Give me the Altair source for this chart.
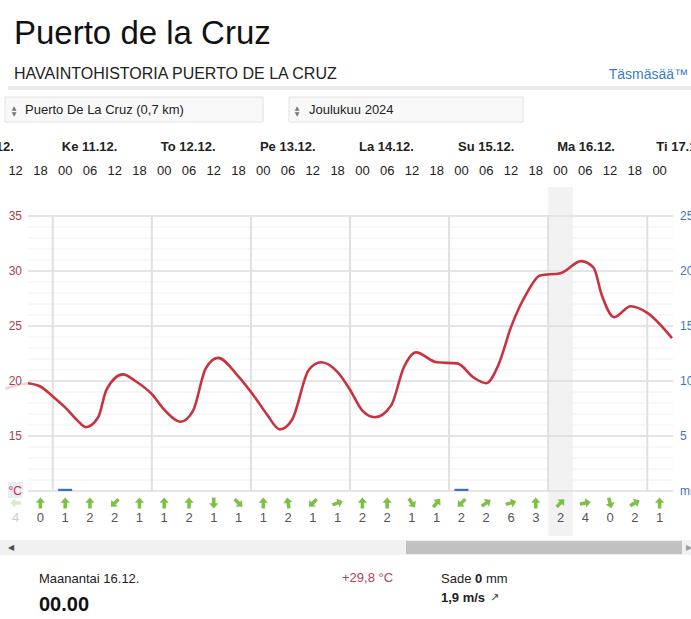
import altair as alt
import pandas as pd

# ---------------- data ----------------
temp_time = [
    "2024-12-10T18:00", "2024-12-10T21:00", "2024-12-11T00:00", "2024-12-11T03:00",
    "2024-12-11T06:00", "2024-12-11T08:00", "2024-12-11T11:00", "2024-12-11T13:00",
    "2024-12-11T17:00", "2024-12-11T20:00", "2024-12-12T00:00", "2024-12-12T03:00",
    "2024-12-12T07:00", "2024-12-12T10:00", "2024-12-12T13:00", "2024-12-12T16:00",
    "2024-12-12T21:00", "2024-12-13T01:00", "2024-12-13T04:00", "2024-12-13T07:00",
    "2024-12-13T10:00", "2024-12-13T14:00", "2024-12-13T17:00", "2024-12-13T21:00",
    "2024-12-14T00:00", "2024-12-14T03:00", "2024-12-14T06:00", "2024-12-14T10:00",
    "2024-12-14T13:00", "2024-12-14T16:00", "2024-12-14T21:00", "2024-12-15T02:00",
    "2024-12-15T06:00", "2024-12-15T09:00", "2024-12-15T12:00", "2024-12-15T15:00",
    "2024-12-15T19:00", "2024-12-15T22:00", "2024-12-16T03:00", "2024-12-16T08:00",
    "2024-12-16T11:00", "2024-12-16T13:00", "2024-12-16T16:00", "2024-12-16T20:00",
    "2024-12-17T00:00", "2024-12-17T06:00",
]
temp_value = [
    19.8, 19.5, 18.6, 17.6, 16.4, 15.8, 16.7, 19.2, 20.6, 20.0, 18.8, 17.4,
    16.3, 17.3, 21.1, 22.1, 20.4, 18.5, 16.9, 15.6, 16.5, 21.0, 21.7, 20.8,
    19.2, 17.3, 16.7, 17.8, 21.2, 22.6, 21.7, 21.6, 20.3, 19.8, 21.5, 24.9,
    28.1, 29.6, 29.8, 30.9, 30.3, 27.8, 25.8, 26.8, 26.2, 23.9,
]
# part of the curve before the visible range (drawn faded)
temp_prev_time = ["2024-12-10T12:30", "2024-12-10T15:00", "2024-12-10T18:00"]
temp_prev_value = [19.3, 19.6, 19.8]

# 6-hour slots, first one lies before the visible range
slot_start = [
    "2024-12-10T12:00", "2024-12-10T18:00",
    "2024-12-11T00:00", "2024-12-11T06:00", "2024-12-11T12:00", "2024-12-11T18:00",
    "2024-12-12T00:00", "2024-12-12T06:00", "2024-12-12T12:00", "2024-12-12T18:00",
    "2024-12-13T00:00", "2024-12-13T06:00", "2024-12-13T12:00", "2024-12-13T18:00",
    "2024-12-14T00:00", "2024-12-14T06:00", "2024-12-14T12:00", "2024-12-14T18:00",
    "2024-12-15T00:00", "2024-12-15T06:00", "2024-12-15T12:00", "2024-12-15T18:00",
    "2024-12-16T00:00", "2024-12-16T06:00", "2024-12-16T12:00", "2024-12-16T18:00",
    "2024-12-17T00:00",
]
wind_speed = [4, 0, 1, 2, 2, 1, 1, 2, 1, 1, 1, 2, 1, 1,
              2, 2, 1, 1, 2, 2, 6, 3, 2, 4, 0, 2, 1]
wind_dir = [270, 0, 0, 0, 225, 0, 0, 0, 180, 135, 0, 350, 225, 70,
            0, 0, 145, 40, 225, 55, 75, 0, 45, 80, 165, 60, 0]
precip_mm = [0, 0, 0.2, 0, 0, 0, 0, 0, 0, 0, 0, 0, 0, 0,
             0, 0, 0, 0, 0.2, 0, 0, 0, 0, 0, 0, 0, 0]

day_start = ["2024-12-10", "2024-12-11", "2024-12-12", "2024-12-13",
             "2024-12-14", "2024-12-15", "2024-12-16", "2024-12-17"]
day_label = ["Ti 10.12.", "Ke 11.12.", "To 12.12.", "Pe 13.12.",
             "La 14.12.", "Su 15.12.", "Ma 16.12.", "Ti 17.12."]

temp_major = [10, 15, 20, 25, 30, 35]
temp_minor = [11, 12, 13, 14, 16, 17, 18, 19, 21, 22, 23, 24,
              26, 27, 28, 29, 31, 32, 33, 34]
left_label_values = [10, 15, 20, 25, 30, 35]
left_label_text = ["°C", "15", "20", "25", "30", "35"]
right_label_values = [0, 5, 10, 15, 20, 25]
right_label_text = ["mm", "5", "10", "15", "20", "25"]

selected_slot = "2024-12-16T00:00"

# ---------------- frames ----------------
temp_df = pd.DataFrame({"t": pd.to_datetime(temp_time), "v": temp_value})
prev_df = pd.DataFrame({"t": pd.to_datetime(temp_prev_time), "v": temp_prev_value})
ss = pd.to_datetime(slot_start)
slot_df = pd.DataFrame({
    "start": ss,
    "mid": ss + pd.Timedelta(hours=3),
    "hour": ss.strftime("%H"),
    "speed": [str(s) for s in wind_speed],
    "dir": wind_dir,
    "p": precip_mm,
    "faded": [i == 0 for i in range(len(slot_start))],
})
wind_df = slot_df
precip_df = slot_df[slot_df["p"] > 0]
ds = pd.to_datetime(day_start)
day_df = pd.DataFrame({"d": ds, "label": day_label})
dayline_df = day_df.iloc[1:]
sel = pd.to_datetime([selected_slot])
sel_df = pd.DataFrame({"a": sel, "b": sel + pd.Timedelta(hours=6)})

F = "Liberation Sans"
RED = "#c8333f"
ONE = pd.DataFrame({"k": [0]})

xs = alt.Scale(
    domain=[alt.DateTime(year=2024, month=12, date=10, hours=18),
            alt.DateTime(year=2024, month=12, date=17, hours=6)],
    range=[28, 672], padding=0, nice=False,
)
yt = alt.Scale(domain=[10, 35], range=[491, 216], nice=False, zero=False)
yp = alt.Scale(domain=[0, 25], range=[491, 216], nice=False)


def X(field):
    return alt.X(field, scale=xs, axis=None)


def box(x1, x2, y1, y2, fill, stroke=None):
    kw = {"fill": fill}
    if stroke:
        kw["stroke"] = stroke
        kw["strokeWidth"] = 1
    return alt.Chart(ONE).mark_rect(**kw).encode(
        x=alt.value(x1), x2=alt.value(x2), y=alt.value(y1), y2=alt.value(y2))


def label(txt, x, y, size=13, color="#222222", weight="normal", align="left",
          font=F, baseline="alphabetic"):
    return alt.Chart(pd.DataFrame({"s": [txt]})).mark_text(
        font=font, fontSize=size, color=color, fontWeight=weight, align=align,
        baseline=baseline).encode(text="s:N", x=alt.value(x), y=alt.value(y))


layers = []

# selected slot band
layers.append(alt.Chart(sel_df).mark_rect(fill="#f2f2f2").encode(
    x=X("a:T"), x2="b:T", y=alt.value(187), y2=alt.value(536)))

# gridlines
layers.append(alt.Chart(pd.DataFrame({"v": temp_minor})).mark_rule(
    color="#f0f0f0", strokeWidth=1).encode(
    x=alt.value(28), x2=alt.value(673), y=alt.Y("v:Q", scale=yt, axis=None)))
layers.append(alt.Chart(pd.DataFrame({"v": temp_major})).mark_rule(
    color="#dcdcdc", strokeWidth=1.6).encode(
    x=alt.value(28), x2=alt.value(673), y=alt.Y("v:Q", scale=yt, axis=None)))
layers.append(alt.Chart(dayline_df).mark_rule(color="#e0e0e0", strokeWidth=2).encode(
    x=X("d:T"), y=alt.value(216), y2=alt.value(491)))

# precipitation bars
layers.append(alt.Chart(precip_df).mark_bar(size=14, color="#3f6fc6").encode(
    x=X("mid:T"), y=alt.Y("p:Q", scale=yp, axis=None)))

# °C label background
layers.append(box(8, 23, 482, 498, "#e7ecf8"))

# temperature curve
layers.append(alt.Chart(prev_df).mark_line(
    interpolate="monotone", color=RED, strokeWidth=2.6, opacity=0.22).encode(
    x=X("t:T"), y=alt.Y("v:Q", scale=yt, axis=None)))
layers.append(alt.Chart(temp_df).mark_line(
    interpolate="monotone", color=RED, strokeWidth=2.6).encode(
    x=X("t:T"), y=alt.Y("v:Q", scale=yt, axis=None)))

# axis labels
left_df = pd.DataFrame({"v": left_label_values, "s": left_label_text,
                        "unit": [s == "°C" for s in left_label_text]})
layers.append(alt.Chart(left_df).mark_text(
    font=F, fontSize=12, align="right", baseline="middle").encode(
    x=alt.value(22), y=alt.Y("v:Q", scale=yt, axis=None), text="s:N",
    color=alt.condition("datum.unit", alt.value("#d8262f"), alt.value("#a8404b"))))
right_df = pd.DataFrame({"v": right_label_values, "s": right_label_text})
layers.append(alt.Chart(right_df).mark_text(
    font=F, fontSize=12, align="left", baseline="middle", color="#3a78bf").encode(
    x=alt.value(680), y=alt.Y("v:Q", scale=yp, axis=None), text="s:N"))

# day and hour labels
layers.append(alt.Chart(day_df).mark_text(
    font=F, fontSize=13, fontWeight="bold", align="left", baseline="middle",
    dx=9, color="#222222").encode(x=X("d:T"), y=alt.value(147), text="label:N"))
layers.append(alt.Chart(slot_df).mark_text(
    font=F, fontSize=13, align="center", baseline="middle", color="#222222").encode(
    x=X("mid:T"), y=alt.value(171), text="hour:N"))

# wind arrows and speeds
ARROW = "M0,-1L0.85,-0.05L0.32,-0.05L0.32,1L-0.32,1L-0.32,-0.05L-0.85,-0.05Z"
layers.append(alt.Chart(wind_df).mark_point(
    shape=ARROW, filled=True, size=120, color="#7cc142", strokeWidth=0).encode(
    x=X("mid:T"), y=alt.value(503), angle=alt.Angle("dir:Q", scale=None),
    opacity=alt.condition("datum.faded", alt.value(0.3), alt.value(1.0))))
layers.append(alt.Chart(wind_df).mark_text(
    font=F, fontSize=13, align="center", baseline="middle").encode(
    x=X("mid:T"), y=alt.value(518), text="speed:N",
    color=alt.condition("datum.faded", alt.value("#cccccc"), alt.value("#555555"))))

# header
layers.append(label("Puerto de la Cruz", 14, 44, size=33, color="#111111"))
layers.append(label("HAVAINTOHISTORIA PUERTO DE LA CRUZ", 14, 79, size=16, color="#222222"))
layers.append(label("Täsmäsää™", 688, 79, size=14, color="#3b7dc4", align="right"))
layers.append(box(8, 691, 86, 90, "#ebebeb"))

# selectors
layers.append(box(5, 263, 97, 122, "#f9f9f9", "#e2e2e2"))
layers.append(box(289, 523, 97, 122, "#f9f9f9", "#e2e2e2"))
for xi in (14, 297):
    layers.append(label("▲", xi, 108, size=6, color="#777777", font="DejaVu Sans",
                        align="center", baseline="middle"))
    layers.append(label("▼", xi, 114, size=6, color="#777777", font="DejaVu Sans",
                        align="center", baseline="middle"))
layers.append(label("Puerto De La Cruz (0,7 km)", 25, 114, size=13))
layers.append(label("Joulukuu 2024", 309, 114, size=13))

# scrollbar
layers.append(box(0, 691, 540, 555, "#f1f1f1"))
layers.append(box(406, 682, 541, 554, "#c1c1c1"))
layers.append(label("◀", 11, 548, size=8, color="#505050", font="DejaVu Sans",
                    align="center", baseline="middle"))
layers.append(label("▶", 689, 548, size=8, color="#a0a0a0", font="DejaVu Sans",
                    align="center", baseline="middle"))

# selected-slot details
layers.append(label("Maanantai 16.12.", 39, 583, size=13))
layers.append(label("00.00", 39, 611, size=20, weight="bold", color="#111111"))
layers.append(label("+29,8 °C", 342, 582, size=13, color="#b4414c"))
layers.append(label("Sade", 441, 583, size=13))
layers.append(label("0", 475, 583, size=13, weight="bold"))
layers.append(label("mm", 486, 583, size=13))
layers.append(label("1,9 m/s", 441, 602, size=13, weight="bold"))
layers.append(label("↗", 490, 601, size=11, color="#444444", font="DejaVu Sans"))

chart = alt.layer(*layers).resolve_scale(y="independent").properties(
    width=691, height=619, padding=0,
    autosize=alt.AutoSizeParams(type="none"),
    background="white",
).configure_view(stroke=None)

chart.save("out.html", embed_options={"renderer": "svg", "actions": False})
